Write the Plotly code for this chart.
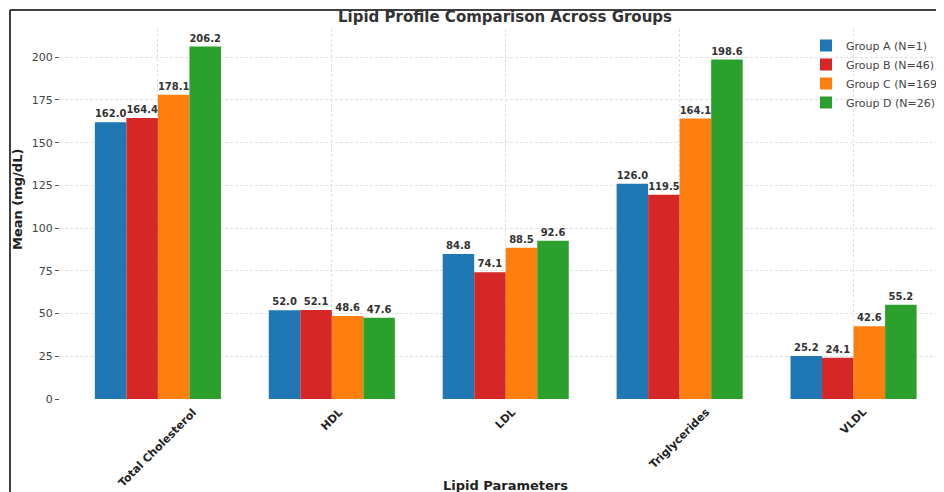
import plotly.graph_objects as go

categories = ["Total Cholesterol", "HDL", "LDL", "Triglycerides", "VLDL"]
group_names = ["Group A (N=1)", "Group B (N=46)", "Group C (N=169)", "Group D (N=26)"]
group_a = [162.0, 52.0, 84.8, 126.0, 25.2]
group_b = [164.4, 52.1, 74.1, 119.5, 24.1]
group_c = [178.1, 48.6, 88.5, 164.1, 42.6]
group_d = [206.2, 47.6, 92.6, 198.6, 55.2]
colors = ["#1f77b4", "#d62728", "#ff7f0e", "#2ca02c"]
y_ticks = [0, 25, 50, 75, 100, 125, 150, 175, 200]

OFF = 8  # page body margin
W, H = 944 - OFF, 492 - OFF
def px(x):  # page x -> figure x
    return x - OFF
def py(y):
    return y - OFF

L, R, T, B = px(60), 0, py(29), H - py(399)
pw, ph = W - L - R, H - T - B
def xp(x):  # page x -> paper
    return (px(x) - L) / pw
def yp(y):
    return (H - B - py(y)) / ph

fig = go.Figure()
for name, vals, col in zip(group_names, [group_a, group_b, group_c, group_d], colors):
    fig.add_trace(go.Bar(
        x=categories, y=vals, name=name, marker=dict(color=col, line=dict(width=0)),
        text=[f"{v:.1f}" for v in vals], textposition="outside",
        textfont=dict(family="DejaVu Sans", size=10, color="#333333", weight="bold"),
        cliponaxis=False,
    ))

fig.update_layout(
    width=W, height=H,
    margin=dict(l=L, r=R, t=T, b=B, autoexpand=False),
    paper_bgcolor="white", plot_bgcolor="white",
    barmode="group", bargap=0.275, bargroupgap=0,
    font=dict(family="DejaVu Sans", color="#333333"),
    title=dict(text="<b>Lipid Profile Comparison Across Groups</b>",
               x=px(505) / W, xanchor="center", y=1 - py(17) / H, yanchor="middle",
               xref="container", yref="container",
               font=dict(family="DejaVu Sans", size=15, color="#333333")),
    legend=dict(x=xp(806), y=yp(31), xanchor="left", yanchor="top",
                bgcolor="rgba(255,255,255,0)", borderwidth=0,
                font=dict(family="DejaVu Sans", size=11, color="#444444"),
                tracegroupgap=0, itemwidth=30),
)
fig.update_xaxes(
    range=[-0.563, 4.52], showgrid=True, gridcolor="#e0e0e0", griddash="3px,2px", gridwidth=0.8,
    showticklabels=False, showline=False, zeroline=False, ticks="",
)
fig.update_yaxes(
    range=[0, 216.5], tickvals=y_ticks, showgrid=True, gridcolor="#e0e0e0", griddash="3px,2px",
    gridwidth=0.8, zeroline=False, showline=False, ticks="outside", ticklen=4,
    tickcolor="#555555", tickwidth=1,
    tickfont=dict(family="DejaVu Sans", size=11, color="#444444"),
)
# rotated category labels, centred under each group (matplotlib-style)
for cat in categories:
    fig.add_annotation(text=f"<b>{cat}</b>", x=cat, xref="x", y=yp(403), yref="paper",
                       showarrow=False, textangle=-45, xanchor="center", yanchor="top",
                       font=dict(family="DejaVu Sans", size=11, color="#222222"))
fig.add_annotation(text="<b>Lipid Parameters</b>", xref="paper", yref="paper",
                   x=xp(505), y=yp(485), showarrow=False,
                   xanchor="center", yanchor="middle",
                   font=dict(family="DejaVu Sans", size=13, color="#222222"))
fig.add_annotation(text="<b>Mean (mg/dL)</b>", xref="paper", yref="paper",
                   x=xp(17), y=yp(200), showarrow=False, textangle=-90,
                   xanchor="center", yanchor="middle",
                   font=dict(family="DejaVu Sans", size=13, color="#222222"))
# frame lines (top and left border of the picture)
fig.add_shape(type="line", xref="paper", yref="paper",
              x0=xp(10), x1=1.02, y0=yp(10), y1=yp(10),
              line=dict(color="black", width=1.5))
fig.add_shape(type="line", xref="paper", yref="paper",
              x0=xp(10), x1=xp(10), y0=yp(10), y1=yp(500),
              line=dict(color="black", width=1.5))

fig.write_html("out.html")
